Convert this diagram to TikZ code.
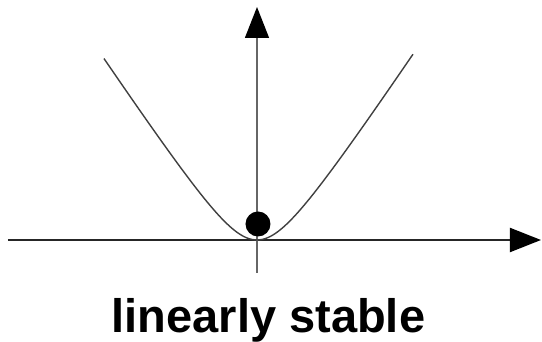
\documentclass[tikz,border=0pt]{standalone}
\usepackage{fontspec}
\setmainfont{Liberation Sans}
\usetikzlibrary{arrows.meta}
\tikzset{
  axisline/.style={line width=2pt, draw=black!85, -{Triangle[length=31pt,width=24pt,color=black]}},
  wellcurve/.style={line width=1.4pt, draw=black!75},
}
\begin{document}
\begin{tikzpicture}[x=1pt,y=1pt]
   \useasboundingbox (-257,-102) rectangle (285,240);
   \coordinate (o) at (0,0);
   \coordinate (xl) at (-249,0);
   \coordinate (xr) at (284,0);
   \coordinate (yb) at (0,-33);
   \coordinate (yt) at (0,233);

   \draw[axisline] (xl) -- (xr);
   \draw[axisline, line width=1.4pt, draw=black!60] (yb) -- (yt);
   \draw[wellcurve] plot[domain=-153:156, samples=120, smooth]
      (\x,{15*(sqrt((\x/10)^2+13.18)-3.63)});
   \fill (1,16) circle (12.5);

   \node[anchor=base, font=\bfseries\fontsize{47}{50}\selectfont, inner sep=0pt] (lbl) at (11.5,-93) {linearly stable};
\end{tikzpicture}
\end{document}
